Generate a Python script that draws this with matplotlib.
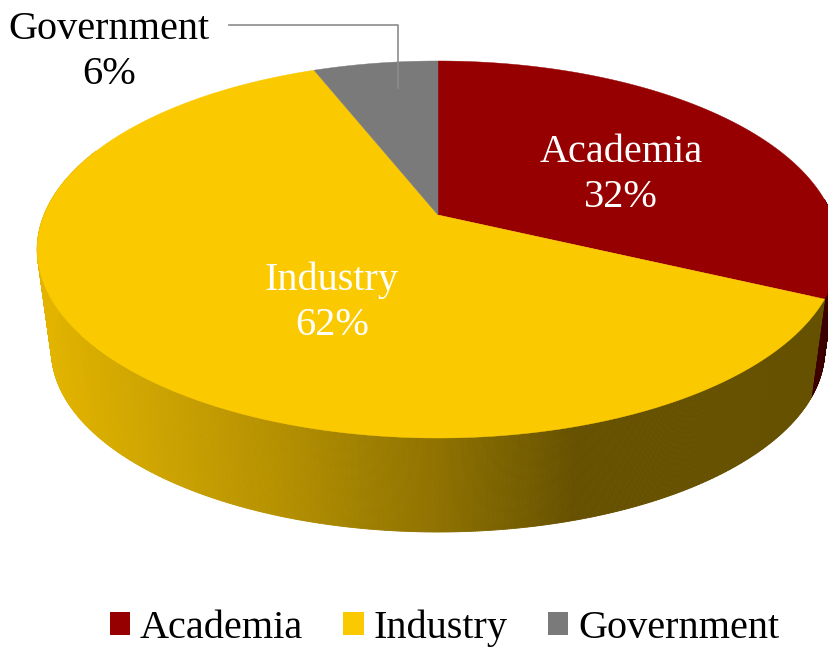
import matplotlib
matplotlib.use('Agg')
import matplotlib.pyplot as plt
import numpy as np
from matplotlib.patches import Polygon, Patch
from matplotlib.collections import PolyCollection
from matplotlib.colors import LinearSegmentedColormap

plt.rcParams['font.family'] = ['Liberation Serif', 'DejaVu Serif']

categories = ['Academia', 'Industry', 'Government']
shares = [32, 62, 6]
colors = ['#970000', '#FBC900', '#7A7A7A']
label_colors = ['white', 'white', 'black']

# pixel layout of the 3d pie
CX, CY = 438, 215
A, B, K = 394, 182.2, 0.183
VP_Y = 3100
DEPTH = 0.0353


def top_rim(theta_deg):
    # theta clockwise from 12 o'clock, with a simple perspective on the disc
    t = np.radians(theta_deg)
    u, v = np.sin(t), np.cos(t)
    w = 1 + K * v
    return CX + A * u / w, CY - B * v / w


def bottom_rim(theta_deg):
    # same rim pulled towards the vanishing point below the pie
    x, y = top_rim(theta_deg)
    return x + DEPTH * (CX - x), y + DEPTH * (VP_Y - y)


def wall(ax, start, end, color_for, zorder):
    thetas = np.linspace(start, end, int(abs(end - start) * 4) + 2)
    xt, yt = top_rim(thetas)
    xb, yb = bottom_rim(thetas)
    quads, face = [], []
    for i in range(len(thetas) - 1):
        quads.append([(xt[i], yt[i]), (xt[i + 1], yt[i + 1]), (xb[i + 1], yb[i + 1]), (xb[i], yb[i])])
        face.append(color_for((xt[i] + xt[i + 1]) / 2))
    ax.add_collection(PolyCollection(quads, facecolors=face, edgecolors=face, linewidths=0.6, zorder=zorder))


fig = plt.figure(figsize=(8.29, 6.47), dpi=100)
ax = fig.add_axes([0, 0, 1, 1])
ax.set_xlim(0, 829)
ax.set_ylim(647, 0)
ax.axis('off')

edges = np.concatenate([[0], np.cumsum(shares)]) * 3.6

# side wall shading runs left to right
shade = LinearSegmentedColormap.from_list('shade', [
    (0.0, '#E2B400'), (0.28, '#B89300'), (0.5, '#8F7200'), (0.68, '#665100'), (1.0, '#665100')])

wall(ax, 85, edges[1], lambda x: '#3D0000', 1)
wall(ax, edges[1], 292, lambda x: shade(np.clip((x - 40) / 790, 0, 1)), 2)

# top face
for i, cat in enumerate(categories):
    thetas = np.linspace(edges[i], edges[i + 1], 200)
    xs, ys = top_rim(thetas)
    pts = np.column_stack([np.r_[CX, xs], np.r_[CY, ys]])
    ax.add_patch(Polygon(pts, closed=True, facecolor=colors[i], edgecolor=colors[i], linewidth=0.3, zorder=3))

# data labels
label_pos = [(621, 175), (332, 303), (109, 52)]
for i, cat in enumerate(categories):
    ax.text(label_pos[i][0], label_pos[i][1], f'{cat}\n{shares[i]}%', color=label_colors[i],
            fontsize=29, ha='center', va='center', linespacing=1.3, zorder=5)

# leader line for Government
ax.plot([229, 398, 398], [25, 25, 88], color='#8C8C8C', lw=1.2, zorder=4)

handles = [Patch(facecolor=c, edgecolor='none') for c in colors]
ax.legend(handles, categories, ncol=3, loc='center', bbox_to_anchor=(444.5 / 829, 1 - 628.5 / 647),
          frameon=False, fontsize=29, handlelength=0.5, handleheight=0.5, handletextpad=0.25,
          columnspacing=1.0, borderpad=0, borderaxespad=0)

fig.savefig('out.png', dpi=100)
